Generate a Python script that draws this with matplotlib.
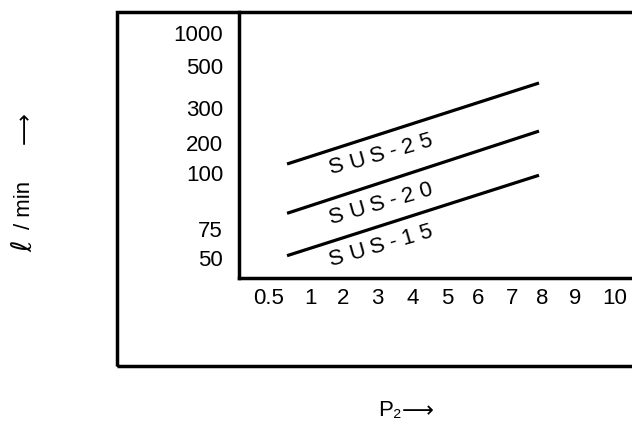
import numpy as np
import matplotlib.pyplot as plt
from matplotlib.patches import Rectangle
from matplotlib.ticker import FixedLocator, FixedFormatter, NullLocator

plt.rcParams['font.family'] = ['Liberation Sans', 'DejaVu Sans']

# tick values of the (hand drawn, uneven) axes
x_ticks = [0.5, 1, 2, 3, 4, 5, 6, 7, 8, 9, 10]
x_tick_labels = ['0.5', '1', '2', '3', '4', '5', '6', '7', '8', '9', '10']
y_ticks = [50, 75, 100, 200, 300, 500, 1000]
y_tick_labels = ['50', '75', '100', '200', '300', '500', '1000']

# the three lines
series_names = ['SUS-25', 'SUS-20', 'SUS-15']
series_x = [0.72, 7.9]
sus25 = [130, 419]
sus20 = [82, 234]
sus15 = [52, 99]
series_y = [sus25, sus20, sus15]

# where the ticks sit on the drawing (pixels from the axis corner)
x_tick_px = [30, 71, 104, 138, 174, 208, 239, 273, 303, 336, 376]
y_tick_px = [20, 49, 105, 135, 170, 212, 245]

x_v = np.array([-0.5] + x_ticks + [11.0])
x_p = np.array([30 - 82] + x_tick_px + [376 + 35])
y_v = np.array([0.0] + y_ticks + [2000.0])
y_p = np.array([20 - 58] + y_tick_px + [245 + 66])


def x_fwd(v):
    return np.interp(v, x_v, x_p)


def x_inv(p):
    return np.interp(p, x_p, x_v)


def y_fwd(v):
    return np.interp(v, y_v, y_p)


def y_inv(p):
    return np.interp(p, y_p, y_v)


W, H = 632, 421
fig = plt.figure(figsize=(W / 100, H / 100), dpi=100)

# inner axes: left spine at x=239px, bottom at y=278px, runs to the right edge
ax = fig.add_axes([239 / W, 1 - 278 / H, 393 / W, 266 / H])
ax.set_xscale('function', functions=(x_fwd, x_inv))
ax.set_yscale('function', functions=(y_fwd, y_inv))
ax.set_xlim(x_inv(0), x_inv(393))
ax.set_ylim(y_inv(0), y_inv(266))

for s in ['top', 'right']:
    ax.spines[s].set_visible(False)
for s in ['left', 'bottom']:
    ax.spines[s].set_linewidth(2.5)

ax.xaxis.set_major_locator(FixedLocator(x_ticks))
ax.xaxis.set_major_formatter(FixedFormatter(x_tick_labels))
ax.yaxis.set_major_locator(FixedLocator(y_ticks))
ax.yaxis.set_major_formatter(FixedFormatter(y_tick_labels))
ax.xaxis.set_minor_locator(NullLocator())
ax.yaxis.set_minor_locator(NullLocator())
ax.tick_params(axis='x', length=0, labelsize=16, pad=7)
ax.tick_params(axis='y', length=0, labelsize=16, pad=11.5)

# lines with their letter-spaced labels just underneath
ang = 16
lab_size = 16
em = lab_size * 100 / 72
track = 5.5
# Arial advance widths (fraction of em)
adv = {'S': 0.667, 'U': 0.722, '-': 0.333, '0': 0.556, '1': 0.556,
       '2': 0.556, '5': 0.556}
ca, sa = np.cos(np.radians(ang)), np.sin(np.radians(ang))
for name, ys in zip(series_names, series_y):
    ax.plot(series_x, ys, color='black', lw=2.3, solid_capstyle='butt')
    d = 0.0
    for i, ch in enumerate(name):
        if i > 0:
            d += (adv[name[i - 1]] + adv[ch]) / 2 * em + track
        ax.annotate(ch, xy=(series_x[0], ys[0]),
                    xytext=(50 + d * ca, -3 + d * sa),
                    textcoords='offset pixels', rotation=ang,
                    rotation_mode='anchor', ha='center', va='center',
                    fontsize=lab_size)

# outer frame (its right side runs off the picture)
fig.add_artist(Rectangle((117 / W, 1 - 366 / H), 1.0, (366 - 12) / H,
                         transform=fig.transFigure, fill=False,
                         lw=2.5, color='black', clip_on=False))

# axis titles
fig.text(25 / W, 1 - 246 / H, r'$\ell$', rotation=90, ha='center',
         va='center', fontsize=20)
fig.text(24 / W, 1 - 205 / H, '/ min', rotation=90, ha='center',
         va='center', fontsize=16)
fig.text(25 / W, 1 - 128 / H, '⟶', rotation=90, ha='center',
         va='center', fontsize=16, family='DejaVu Sans')
fig.text(390 / W, 1 - 411 / H, 'P₂', ha='center', va='center',
         fontsize=16)
fig.text(418 / W, 1 - 411 / H, '⟶', ha='center', va='center',
         fontsize=16, family='DejaVu Sans')

fig.savefig('out.png', dpi=100)
